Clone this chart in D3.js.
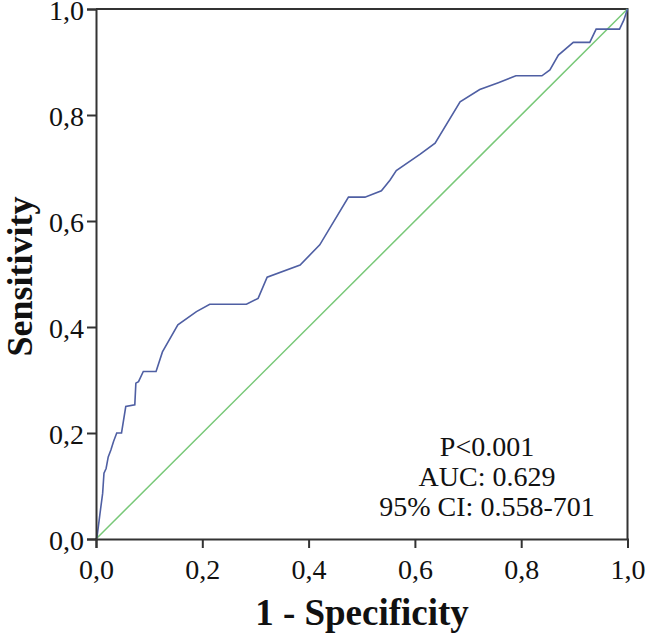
<!DOCTYPE html>
<html>
<head>
<meta charset="utf-8">
<script src="https://cdn.jsdelivr.net/npm/d3@7"></script>
<style>
  html, body { margin: 0; padding: 0; background: #fff; }
  svg { display: block; }
  text { font-family: "Liberation Serif", "Times New Roman", serif; fill: #111; }
</style>
</head>
<body>
<svg id="chart" width="646" height="640"></svg>
<script>
// ROC curve points (1 - specificity, sensitivity)
const fpr = [0, 0.002, 0.0075, 0.0125, 0.015, 0.019, 0.023, 0.028, 0.033, 0.039, 0.048, 0.056, 0.073, 0.075, 0.08, 0.089, 0.113, 0.125, 0.154, 0.189, 0.214, 0.283, 0.305, 0.322, 0.384, 0.421, 0.475, 0.506, 0.537, 0.553, 0.565, 0.610, 0.638, 0.685, 0.722, 0.757, 0.790, 0.839, 0.854, 0.870, 0.898, 0.929, 0.941, 0.985, 0.993, 1];
const tpr = [0, 0.004, 0.048, 0.086, 0.124, 0.133, 0.155, 0.168, 0.184, 0.2, 0.2, 0.25, 0.253, 0.294, 0.297, 0.316, 0.316, 0.353, 0.404, 0.429, 0.443, 0.443, 0.454, 0.494, 0.517, 0.555, 0.645, 0.645, 0.657, 0.677, 0.695, 0.726, 0.747, 0.825, 0.848, 0.861, 0.874, 0.874, 0.885, 0.913, 0.937, 0.937, 0.962, 0.962, 0.979, 1];
const refLine = [0, 1];
const tickValues = [0, 0.2, 0.4, 0.6, 0.8, 1.0];
const tickLabels = ["0,0", "0,2", "0,4", "0,6", "0,8", "1,0"];
const annotation = ["P<0.001", "AUC: 0.629", "95% CI: 0.558-701"];
const xTitle = "1 - Specificity";
const yTitle = "Sensitivity";

const svg = d3.select("#chart");
const mLeft = 96, mRight = 627.5, mTop = 9, mBottom = 539;
const x = d3.scaleLinear().domain([0, 1]).range([mLeft, mRight]);
const y = d3.scaleLinear().domain([0, 1]).range([mBottom, mTop]);

// frame (top and right)
svg.append("path")
  .attr("d", `M${x(0)},${y(1)}H${x(1)}V${y(0)}`)
  .attr("fill", "none").attr("stroke", "#333").attr("stroke-width", 2);

// reference diagonal
svg.append("line")
  .attr("x1", x(refLine[0])).attr("y1", y(refLine[0]))
  .attr("x2", x(refLine[1])).attr("y2", y(refLine[1]))
  .attr("stroke", "#78c878").attr("stroke-width", 1.5);

// ROC curve
const pts = fpr.map((f, i) => [f, tpr[i]]);
svg.append("path")
  .datum(pts)
  .attr("d", d3.line().x(d => x(d[0])).y(d => y(d[1])))
  .attr("fill", "none").attr("stroke", "#4f5fa3").attr("stroke-width", 1.6);

const fmt = d => tickLabels[tickValues.indexOf(d)];

const xAxis = svg.append("g").attr("transform", `translate(0,${mBottom})`)
  .call(d3.axisBottom(x).tickValues(tickValues).tickFormat(fmt).tickSize(9).tickPadding(6));
const yAxis = svg.append("g").attr("transform", `translate(${mLeft},0)`)
  .call(d3.axisLeft(y).tickValues(tickValues).tickFormat(fmt).tickSize(9).tickPadding(3));

[xAxis, yAxis].forEach(g => {
  g.select(".domain").attr("stroke", "#333").attr("stroke-width", 2);
  g.selectAll(".tick line").attr("stroke", "#333").attr("stroke-width", 2);
  g.selectAll(".tick text").attr("font-family", "Liberation Serif").attr("font-size", 28).attr("fill", "#111");
});
xAxis.selectAll(".tick text").attr("dy", null).attr("y", 40);
yAxis.selectAll(".tick text").attr("dy", "0.36em");

// axis titles
svg.append("text")
  .attr("x", 362).attr("y", 625)
  .attr("text-anchor", "middle")
  .attr("font-size", 37).attr("font-weight", "bold")
  .text(xTitle);

svg.append("text")
  .attr("transform", `translate(32,276.5) rotate(-90)`)
  .attr("text-anchor", "middle")
  .attr("font-size", 36).attr("font-weight", "bold")
  .text(yTitle);

// annotation
const annoY = [456, 486, 516];
svg.selectAll("text.anno").data(annotation).join("text")
  .attr("class", "anno")
  .attr("x", 487).attr("y", (d, i) => annoY[i])
  .attr("text-anchor", "middle")
  .attr("font-size", 28)
  .text(d => d);
</script>
</body>
</html>
